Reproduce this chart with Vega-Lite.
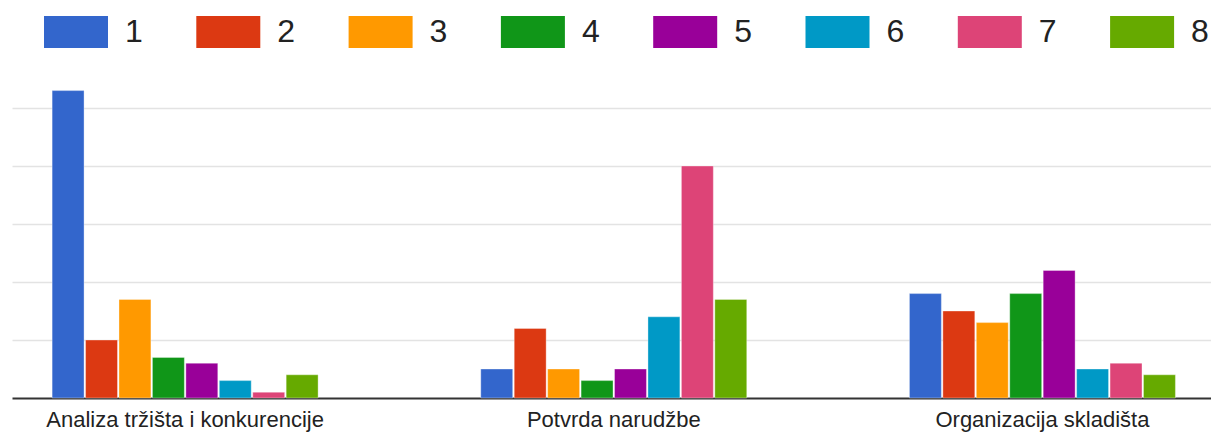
{
  "$schema": "https://vega.github.io/schema/vega-lite/v6.json",
  "width": 1199,
  "height": 319,
  "autosize": {"type": "none"},
  "padding": {"left": 12, "top": 79, "right": 0, "bottom": 35},
  "background": "white",
  "data": {
    "values": [
      {"kategorija": "Analiza tržišta i konkurencije", "ocjena": "1", "broj": 53},
      {"kategorija": "Analiza tržišta i konkurencije", "ocjena": "2", "broj": 10},
      {"kategorija": "Analiza tržišta i konkurencije", "ocjena": "3", "broj": 17},
      {"kategorija": "Analiza tržišta i konkurencije", "ocjena": "4", "broj": 7},
      {"kategorija": "Analiza tržišta i konkurencije", "ocjena": "5", "broj": 6},
      {"kategorija": "Analiza tržišta i konkurencije", "ocjena": "6", "broj": 3},
      {"kategorija": "Analiza tržišta i konkurencije", "ocjena": "7", "broj": 1},
      {"kategorija": "Analiza tržišta i konkurencije", "ocjena": "8", "broj": 4},
      {"kategorija": "Potvrda narudžbe", "ocjena": "1", "broj": 5},
      {"kategorija": "Potvrda narudžbe", "ocjena": "2", "broj": 12},
      {"kategorija": "Potvrda narudžbe", "ocjena": "3", "broj": 5},
      {"kategorija": "Potvrda narudžbe", "ocjena": "4", "broj": 3},
      {"kategorija": "Potvrda narudžbe", "ocjena": "5", "broj": 5},
      {"kategorija": "Potvrda narudžbe", "ocjena": "6", "broj": 14},
      {"kategorija": "Potvrda narudžbe", "ocjena": "7", "broj": 40},
      {"kategorija": "Potvrda narudžbe", "ocjena": "8", "broj": 17},
      {"kategorija": "Organizacija skladišta", "ocjena": "1", "broj": 18},
      {"kategorija": "Organizacija skladišta", "ocjena": "2", "broj": 15},
      {"kategorija": "Organizacija skladišta", "ocjena": "3", "broj": 13},
      {"kategorija": "Organizacija skladišta", "ocjena": "4", "broj": 18},
      {"kategorija": "Organizacija skladišta", "ocjena": "5", "broj": 22},
      {"kategorija": "Organizacija skladišta", "ocjena": "6", "broj": 5},
      {"kategorija": "Organizacija skladišta", "ocjena": "7", "broj": 6},
      {"kategorija": "Organizacija skladišta", "ocjena": "8", "broj": 4}
    ]
  },
  "mark": {"type": "bar", "stroke": "white", "strokeOpacity": 0.35, "strokeWidth": 1},
  "encoding": {
    "x": {
      "field": "kategorija",
      "type": "nominal",
      "sort": null,
      "scale": {"paddingInner": 0.3795, "paddingOuter": 0.0883, "align": 0.53},
      "axis": {
        "title": null,
        "labelAngle": 0,
        "ticks": false,
        "domainColor": "#333333",
        "domainWidth": 2,
        "labelFont": "Liberation Sans",
        "labelFontSize": 22,
        "labelLimit": 0,
        "labelColor": "#222222",
        "labelPadding": 11
      }
    },
    "xOffset": {
      "field": "ocjena",
      "type": "nominal",
      "scale": {"paddingInner": 0.045, "paddingOuter": 0}
    },
    "y": {
      "field": "broj",
      "type": "quantitative",
      "scale": {"domain": [0, 55], "nice": false},
      "axis": {
        "title": null,
        "labels": false,
        "ticks": false,
        "domain": false,
        "values": [10, 20, 30, 40, 50],
        "gridColor": "#e3e3e3",
        "gridWidth": 1.5
      }
    },
    "color": {
      "field": "ocjena",
      "type": "nominal",
      "scale": {
        "domain": ["1", "2", "3", "4", "5", "6", "7", "8"],
        "range": ["#3366cc", "#dc3912", "#ff9900", "#109618", "#990099", "#0099c6", "#dd4477", "#66aa00"]
      },
      "legend": {
        "orient": "none",
        "legendX": 32,
        "legendY": -79,
        "direction": "horizontal",
        "title": null,
        "symbolType": "M-1,-0.5H1V0.5H-1Z",
        "symbolSize": 4096,
        "symbolStrokeWidth": 0,
        "labelFont": "Liberation Sans",
        "labelFontSize": 32,
        "labelColor": "#222222",
        "labelOffset": 17,
        "columnPadding": 53.3,
        "symbolOpacity": 1
      }
    }
  },
  "config": {"view": {"stroke": null}}
}
